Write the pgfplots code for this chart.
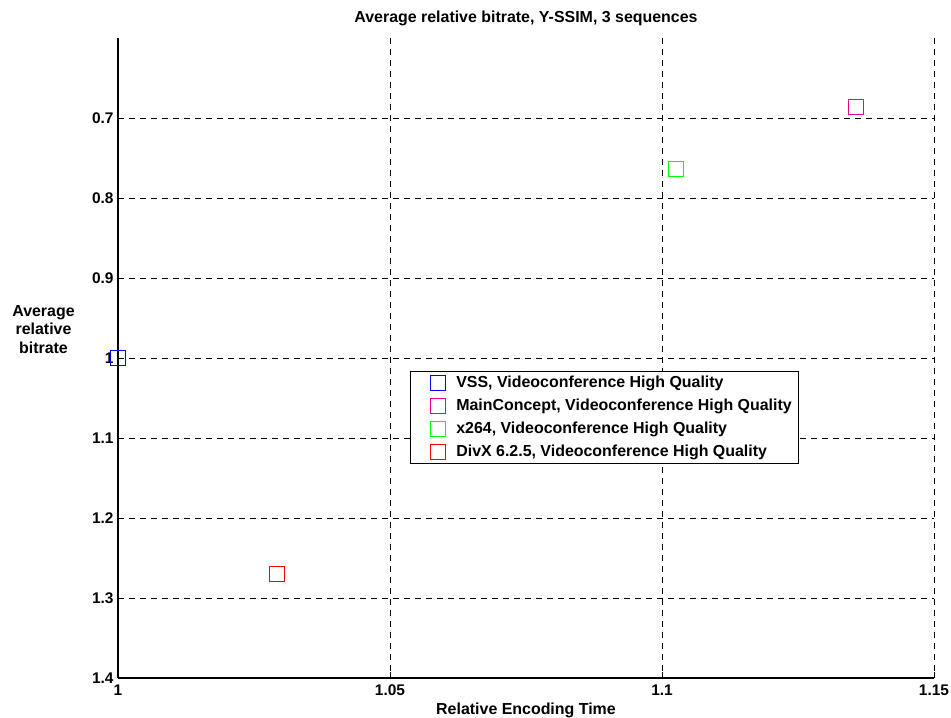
\documentclass[border=0pt]{standalone}
\usepackage{fontspec}
\setmainfont{Liberation Sans}
\usepackage{pgfplots}
\pgfplotsset{compat=1.18}
\begin{document}
\begin{tikzpicture}
\useasboundingbox (-118bp,-40bp) rectangle (833bp,678bp);
\begin{axis}[
  at={(0,0)}, anchor=south west,
  scale only axis, width=816bp, height=640bp,
  xmin=1, xmax=1.15, ymin=0.6, ymax=1.4,
  y dir=reverse,
  axis x line*=bottom, axis y line*=left,
  axis line style={line width=1.3pt, -},
  xtick={1,1.05,1.1,1.15},
  xticklabels={1,1.05,1.1,1.15},
  ytick={0.7,0.8,0.9,1,1.1,1.2,1.3,1.4},
  yticklabels={0.7,0.8,0.9,1,1.1,1.2,1.3,1.4},
  tick align=inside, major tick length=6bp,
  tick style={black, line width=1pt},
  grid=major,
  major grid style={black, line width=0.8pt, dash pattern=on 6bp off 5bp},
  tick label style={font=\fontsize{15.5}{17}\selectfont\bfseries},
  xticklabel style={yshift=-3bp},
  yticklabel style={xshift=-1bp},
  title={Average relative bitrate, Y-SSIM, 3 sequences},
  title style={font=\fontsize{16}{18}\selectfont\bfseries, at={(axis description cs:0.5,1)}, anchor=south, yshift=3bp},
  xlabel={Relative Encoding Time},
  xlabel style={font=\fontsize{16}{18}\selectfont\bfseries, at={(axis description cs:0.5,0)}, anchor=north, yshift=-21bp},
  ylabel={Average\\relative\\bitrate},
  ylabel style={font=\fontsize{16}{18.5}\selectfont\bfseries, rotate=-90, align=center, anchor=center, at={(axis description cs:-0.0913,0.545)}},
  legend style={at={(axis description cs:0.358,0.48)}, anchor=north west,
    draw=black, line width=0.8pt, font=\fontsize{16}{18}\selectfont\bfseries,
    inner xsep=5bp, inner ysep=3bp, row sep=6bp, cells={anchor=west}},
  legend image code/.code={\path (0bp,0bp) (38bp,0bp); \draw[#1, mark size=7.5bp] plot coordinates {(22bp,0bp)};},
  clip=false,
]
\addplot[only marks, blue, mark=square, mark size=7.5bp, mark options={draw=blue, fill=none, solid, line width=1.2pt}] coordinates {(1.0,1.0)};
\addlegendentry{VSS, Videoconference High Quality}
\addplot[only marks, magenta, mark=square, mark size=7.5bp, mark options={draw=magenta, fill=none, solid, line width=1.2pt}] coordinates {(1.1357,0.686)};
\addlegendentry{MainConcept, Videoconference High Quality}
\addplot[only marks, green, mark=square, mark size=7.5bp, mark options={draw=green, fill=none, solid, line width=1.2pt}] coordinates {(1.1025,0.764)};
\addlegendentry{x264, Videoconference High Quality}
\addplot[only marks, red, mark=square, mark size=7.5bp, mark options={draw=red, fill=none, solid, line width=1.2pt}] coordinates {(1.0293,1.27)};
\addlegendentry{DivX 6.2.5, Videoconference High Quality}
\end{axis}
\end{tikzpicture}
\end{document}
